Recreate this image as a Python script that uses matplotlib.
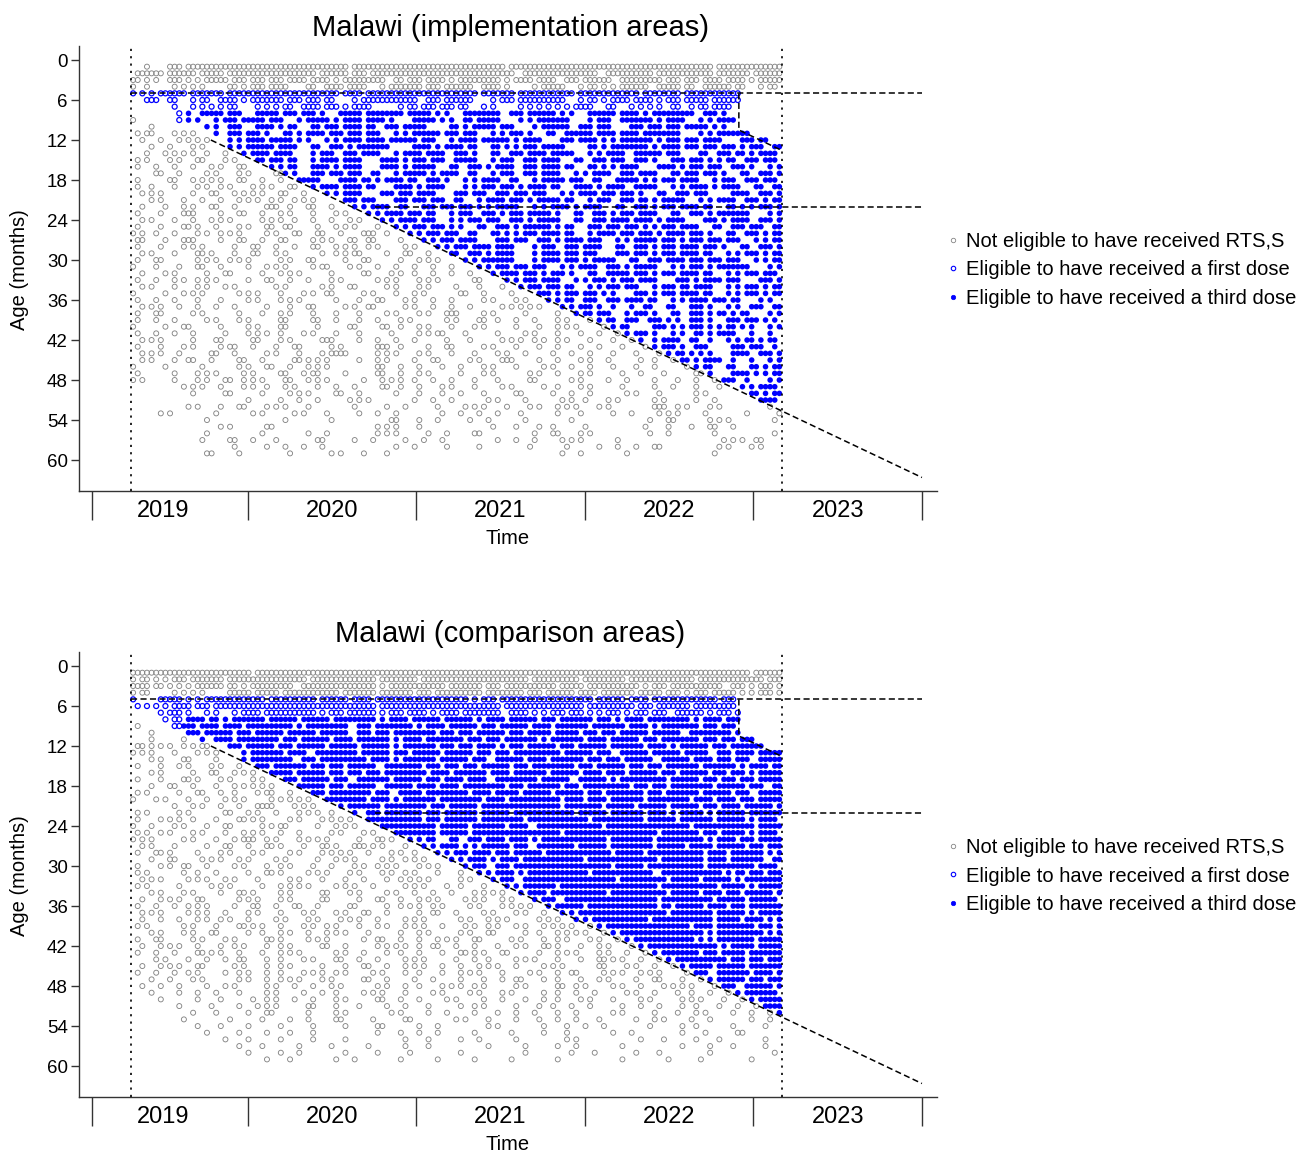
import numpy as np
import matplotlib.pyplot as plt
from matplotlib.lines import Line2D

plt.rcParams['font.family'] = ['Liberation Sans', 'DejaVu Sans']

# time is in decimal years, age in months
launch = 2019.307      # RTS,S introduction, 23 April 2019
data_end = 2023.168    # last observation
n_bins = 47            # roughly monthly bins between launch and data_end
ages = list(range(1, 60))

cohort_age0 = 6.3      # oldest age at launch that was still eligible
first_dose_age = 5
third_dose_age = 8
third_dose_lag = 3.7   # months after launch before a third dose was possible
dose4_start = 2020.757
late_cut_time = 2022.914
late_cut_age = 10.5

# children seen per (age row, monthly bin).
# each digit is octal: bits 4/2/1 = first/middle/last third of the month
impl_counts = [
    "0416777777 7777767777 7777777377 7777777777 7737777",  # 1
    "3757676777 7775767377 7777777637 7776377677 7737677",
    "6516537356 7367537746 7365776573 6357637756 7367537",
    "4405240656 7414757057 7357636405 7426537476 6375426",
    "5277376777 7777736777 7777737677 7737776776 7777000",  # 5
    "0714263657 7356605777 6357605677 7426573656 7677000",
    "0004252605 2636727402 6735424052 5274305246 2674000",
    "0002476707 6735076776 7650776357 6507736577 6350000",
    "4002505676 7057536750 3724676053 7605637657 0536000",
    "0200024707 5306736635 7406575605 7635607356 7650000",  # 10
    "2605204735 0657356705 3756705350 6375736776 0537600",
    "1042520536 7650536757 6705737536 0736537656 7360730",
    "0210240537 5706353760 3657306535 7406577536 7356563",
    "0425221057 3605635705 7363506357 3705363756 0635536",
    "2412141206 7305736075 3563705635 7063563507 3526356",  # 15
    "2104212140 5307536075 3706353635 7306536075 3563505",
    "0142024120 3507356305 7536305635 7053635706 7350635",
    "2014252142 1076075536 6350536305 7563076535 7056356",
    "2204122412 4305736607 5360535657 3075363705 3657063",
    "1240214252 1420536073 5703563567 0536735063 5603635",  # 20
    "0241042124 5124035607 3563057353 7305635537 0536353",
    "1021214201 6214205363 0735653705 3657063535 7306535",
    "2041602142 1204120536 7305635357 5063535706 3537605",
    "1204212402 5104212053 6705356353 7063573657 0353635",
    "2041504121 4602124105 3565063537 5307356535 7063563",  # 25
    "5104122501 2143041620 5356306535 7305735657 3506353",
    "3021602142 1405214602 0535703563 5367053735 3567053",
    "2041240214 2106124501 2053573605 6357063535 7350635",
    "1204150214 2401126021 4206353605 7356073535 7305353",
    "2140124520 1214021402 1240537605 7353706357 3567053",  # 30
    "4102142021 2405412104 2104053567 0536353705 3537605",
    "1024021402 1240201412 2104205735 3506373535 7305356",
    "2105124021 4210240124 1240140535 7053535703 5367035",
    "1204121200 2401214024 1202041056 7305356135 5705353",
    "4021240124 1024601204 2401420203 5356503535 7305353",  # 35
    "2104102024 1240102141 2104024120 5316357305 3673024",
    "1242104201 0214024601 2104201252 0535104614 3505163",
    "2140240102 1204102024 1216024020 1055613506 3532605",
    "2104024120 1406102102 4012062104 1205316352 3507352",
    "4021402024 1402014062 1204120102 1240530165 3526505",  # 40
    "2104201025 1024102010 1260402024 1021053505 1536104",
    "1240206014 1201602104 2010201245 1204105136 3105326",
    "2041202610 2140240162 0214024102 1021020535 1603562",
    "1242014201 2041360124 1204102420 2104102053 2503635",
    "1204610142 0152402120 2140241602 1024201105 5362105",  # 45
    "4020040121 4212400142 1021024101 2104102100 5306153",
    "2004124050 1426020142 1201024012 1024021020 1503653",
    "5004121452 0612401052 2104102014 0120210102 1056205",
    "0001242051 0502104062 1024101201 1024020104 1020536",
    "0000201402 0250142004 1021020140 2104012040 1200153",  # 50
    "0000000020 1042012400 2104012020 0510240120 1040036",
    "0000502141 2410004021 0040520412 1241200162 4120004",
    "0050004012 0120402104 0021042040 1020104052 0200201",
    "0000020000 0400200014 1040210020 0100000214 0124002",
    "0000002401 4000000124 1000004102 2010000410 2142000",  # 55
    "0000020002 0010400124 0210140004 3024000210 0040002",
    "0000040610 2003004201 0420002104 0520040000 0012460",
    "0000000201 0421000004 2010040010 0201042140 0024120",
    "0000030100 0200241020 0000000000 0420010000 0040000",
]

comp_counts = [
    "7777777767 7777777777 7777777777 7777777777 7777677",  # 1
    "5527376777 7767777677 6777777767 7757767777 6777767",
    "7552576657 7637777657 7767756777 6767776567 7763535",
    "5405240767 6777737677 5677757756 7736775756 5676535",
    "4076537776 7775767577 7777535777 7775767577 7756000",  # 5
    "2527567777 7777777677 7777776777 7767775677 5776000",
    "0056424275 7775357656 7536776365 3565353563 7535000",
    "0026755376 7737577657 3757657375 6775657377 5367000",
    "2007675737 7657763577 5367735767 5773767537 7356000",
    "0200737567 7375763567 7735677357 5756737576 3775000",  # 10
    "0201047577 6737573765 7377356775 3767576737 7356700",
    "3251260737 5677375765 7735675357 6737577365 7673760",
    "5204124057 7363775767 3757673577 7375637576 7635737",
    "0241404057 7635777365 7737563757 3767357637 5735637",
    "2042412107 3767357637 7356737567 7735767357 7376573",  # 15
    "0240214250 7677356737 7573767577 3757367735 7673537",
    "2041502412 0737563767 7357363775 7637537767 7356737",
    "0214204252 4077357637 5736777357 7357773567 7737563",
    "2402142205 4207377563 7377573737 5767377357 7375637",
    "4120421240 5250777365 7737757377 7367577377 5736737",  # 20
    "0004242107 4124057737 7567737777 7377375767 7357375",
    "2402401424 2052204737 7357737577 7737577365 7537577",
    "2052204152 0241250777 7357737757 7773777375 7737536",
    "4205021402 5402124077 7737577363 7777377777 5777737",
    "2450241052 1040241207 7737577777 7377777737 7357536",  # 25
    "5201204271 2052402150 5306357365 7777577677 7536737",
    "1204021421 5021507241 0536537563 7737577677 3737567",
    "2150102412 0241250412 2053573576 7777677377 7573765",
    "0214052120 2402124051 2405365737 7767777737 7573763",
    "2051420241 1204205124 1240563577 7777677377 7577736",  # 30
    "2401104021 5012412051 2041053657 7773777637 7765567",
    "1240521204 0241021022 5201205637 7777737767 7375377",
    "2402012402 1250124201 2411020537 6777777737 7757537",
    "0241202150 1201412024 2104125057 3777577767 7367375",
    "1052140124 1201402142 1240521205 6377777737 7737576",  # 35
    "2104520214 2142014022 5120241250 5767777733 7573577",
    "1240521024 1024121420 1142024121 0537777767 7737537",
    "1042122420 2412052101 2401212402 5053777577 7737365",
    "2401204152 1024502121 2420512121 2505377777 5737735",
    "0241214022 1210520402 1201214022 1250537777 7537765",  # 40
    "2140241201 5012401142 1052140241 1205053777 6537737",
    "1052102241 1201420125 1142102121 5021205377 7753737",
    "2104152102 1240121022 1021521402 1241210537 7357577",
    "0120421141 1024142101 2402110124 1021521053 7773567",
    "1052140241 1201021421 2421052101 2401412105 3737577",  # 45
    "2104501121 1025120241 1021241012 1140521240 5637675",
    "0210240121 1241201420 2101021141 1021202141 0537567",
    "1042021201 2104240121 1025120120 1450121025 2056375",
    "0202104101 2021101241 0120241201 1042012102 2105376",
    "0040102011 2104120142 1012021021 1024101201 2410537",  # 50
    "0002010105 2014102021 0201120102 2104021041 1021057",
    "0000204021 4010120012 0210102104 1040120102 1202105",
    "0001000402 0210140201 4002410102 1041002120 2100104",
    "0000102020 1004020140 1040012001 0210400201 1002010",
    "0000020101 0204000102 1040100201 0200104001 0201400",  # 55
    "0000001020 1004020001 0201040100 0240001020 1020010",
    "0000000102 0040200401 0200010020 1040020001 0102010",
    "0000000020 1040020100 4001000020 0102002040 0100002",
    "0000000001 0200104002 0040100200 1000020010 0400100",
]

year_ticks = [2019.079, 2020, 2021, 2022, 2023, 2024]
year_labels = ['2019', '2020', '2021', '2022', '2023']
legend_labels = ['Not eligible to have received RTS,S',
                 'Eligible to have received a first dose',
                 'Eligible to have received a third dose']

GREY = '#858585'
BLUE = '#0000ff'
dash = (0, (4.0, 2.2))
dot = (0, (1.3, 3.1))


def to_points(counts):
    width = (data_end - launch) / n_bins
    ts, ags = [], []
    for age, row in zip(ages, counts):
        row = row.replace(' ', '').ljust(n_bins, '0')[:n_bins]
        for k, ch in enumerate(row):
            bits = int(ch, 8)
            for slot in range(3):
                if bits & (4 >> slot):
                    ts.append(launch + (k + (slot + 0.5) / 3) * width)
                    ags.append(age)
    return np.array(ts), np.array(ags)


def draw_panel(ax, counts, title, top_px):
    t, a = to_points(counts)
    months = (t - launch) * 12
    grey = (a < first_dose_age) | (a > cohort_age0 + months)
    third = ~grey & (a >= third_dose_age) & (months >= third_dose_lag)
    first = ~grey & ~third

    ax.scatter(t[grey], a[grey], s=13, facecolors='none', edgecolors=GREY, linewidths=0.65, zorder=2)
    ax.scatter(t[first], a[first], s=13, facecolors='none', edgecolors=BLUE, linewidths=0.9, zorder=3)
    ax.scatter(t[third], a[third], s=16, c=BLUE, edgecolors='none', zorder=3)

    ax.axvline(launch, color='k', ls=dot, lw=1.2, zorder=4)
    ax.axvline(data_end, color='k', ls=dot, lw=1.2, zorder=4)
    t12 = launch + (12 - cohort_age0) / 12
    ax.plot([t12, 2024.0], [12, cohort_age0 + 12 * (2024.0 - launch)], color='k', ls=dash, lw=1.1, zorder=4)
    ax.plot([launch, 2024.0], [first_dose_age, first_dose_age], color='k', ls=dash, lw=1.1, zorder=4)
    ax.plot([dose4_start, 2024.0], [22, 22], color='k', ls=dash, lw=1.1, zorder=4)
    ax.plot([late_cut_time, late_cut_time, data_end],
            [first_dose_age, late_cut_age, late_cut_age + 12 * (data_end - late_cut_time)],
            color='k', ls=dash, lw=1.1, zorder=4)

    ax.set_xlim(2019.0, 2024.09)
    ax.set_ylim(64.6, -2.1)
    ax.set_xticks(year_ticks)
    ax.set_xticklabels([])
    ax.set_xticks([y + 0.5 for y in range(2019, 2024)], labels=year_labels, minor=True)
    ax.tick_params(axis='x', which='major', length=21, width=1.0, color='#333333')
    ax.tick_params(axis='x', which='minor', length=0, pad=7, labelsize=17)
    ax.set_yticks(range(0, 61, 6))
    ax.tick_params(axis='y', length=5.5, width=1.0, pad=2.5, labelsize=13.5, color='#333333')
    for side in ['top', 'right']:
        ax.spines[side].set_visible(False)
    for side in ['left', 'bottom']:
        ax.spines[side].set_color('#333333')
        ax.spines[side].set_linewidth(1.0)

    H = 1153.0
    fig.text(510 / 1311, 1 - (top_px + 28) / H, title, ha='center', va='center', fontsize=21)
    fig.text(20 / 1311, 1 - (top_px + 270) / H, 'Age (months)', rotation=90, ha='center', va='center', fontsize=14.5)
    fig.text(508 / 1311, 1 - (top_px + 539) / H, 'Time', ha='center', va='center', fontsize=14.5)

    handles = [
        Line2D([], [], ls='none', marker='o', ms=3.2, mfc='none', mec=GREY, mew=0.6),
        Line2D([], [], ls='none', marker='o', ms=3.2, mfc='none', mec=BLUE, mew=0.8),
        Line2D([], [], ls='none', marker='o', ms=3.2, mfc=BLUE, mec=BLUE, mew=0.5),
    ]
    fig.legend(handles, legend_labels, loc='center left',
               bbox_to_anchor=(947 / 1311, 1 - (top_px + 270) / H),
               frameon=False, fontsize=14.5, handlelength=0.6, handletextpad=0.35,
               labelspacing=0.48, borderpad=0, borderaxespad=0)


fig = plt.figure(figsize=(13.11, 11.53), dpi=100)
ax1 = fig.add_axes([0.0603, 0.5744, 0.6545, 0.3857])
ax2 = fig.add_axes([0.0603, 0.0488, 0.6545, 0.3857])
draw_panel(ax1, impl_counts, 'Malawi (implementation areas)', 0)
draw_panel(ax2, comp_counts, 'Malawi (comparison areas)', 606)

fig.savefig('out.png', dpi=100)
